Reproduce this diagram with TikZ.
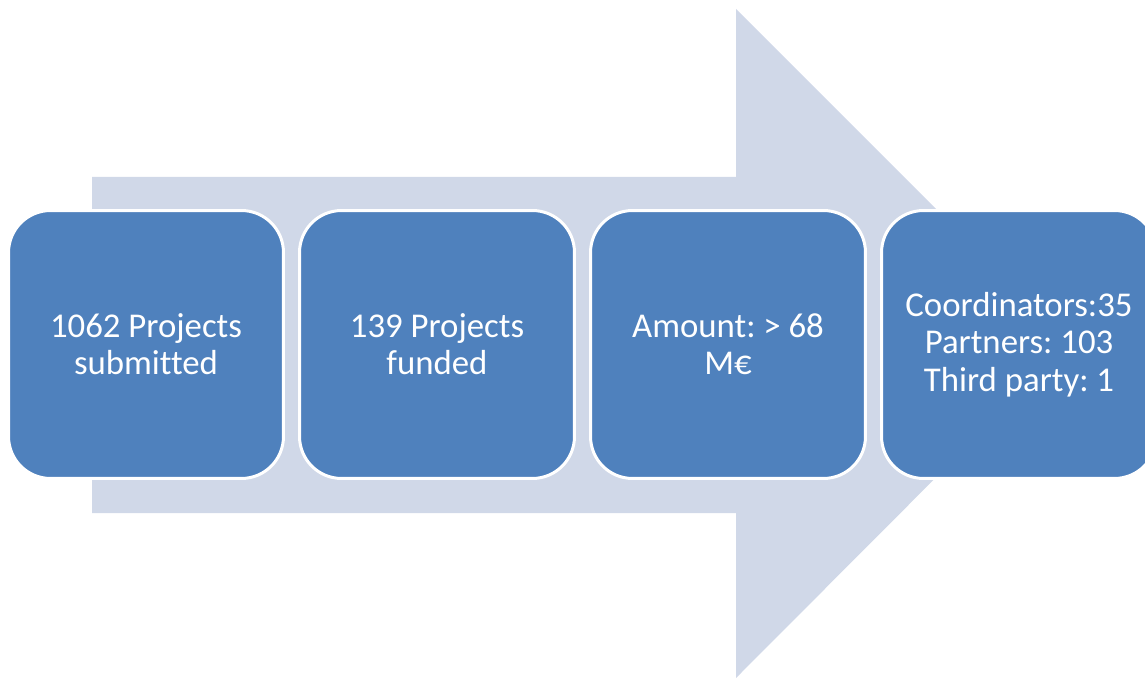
\documentclass[tikz,border=0pt]{standalone}
\usepackage{fontspec}
\setmainfont{Carlito}[Ligatures=NoCommon]
\usepackage{tikz}
\usepackage{xcolor}
\frenchspacing
\definecolor{stageblue}{HTML}{4F81BD}
\definecolor{arrowgrey}{HTML}{D0D8E8}
\tikzset{stagebox/.style={draw=white, line width=0.06cm, fill=stageblue,
    rounded corners=0.84cm, minimum width=5.5cm, minimum height=5.36cm,
    text=white, align=center, inner sep=0pt,
    font=\fontsize{19.8pt}{21.2pt}\selectfont}}

\begin{document}
\begin{tikzpicture}[x=0.02cm,y=-0.02cm]
              \clip (0,0) rectangle (1145,678);
              % big arrow behind the stages
              \fill[color=arrowgrey] (92,177) -- (736,177) -- (736,9) -- (1070,343)
                   -- (736,678) -- (736,513) -- (92,513) -- cycle;
              \node[stagebox] (submitted) at (146,344.5) {1062 Projects\\submitted};
              \node[stagebox] (funded) at (437,344.5) {139 Projects\\funded};
              \node[stagebox] (amount) at (728,344.5) {Amount: > 68\\M€};
              \node[stagebox] (partners) at (1019,344.5) {Coordinators:35\\Partners: 103\\Third party: 1};
        \end{tikzpicture}
\end{document}
